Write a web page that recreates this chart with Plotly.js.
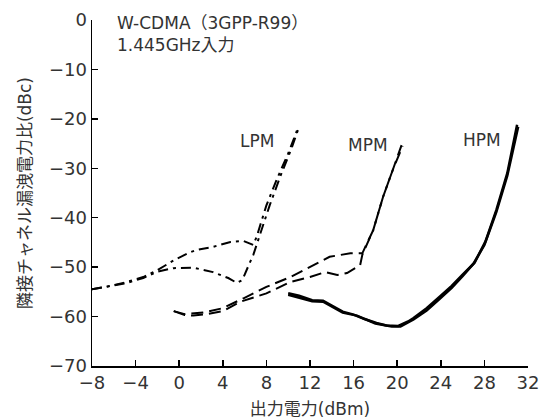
<!DOCTYPE html>
<html>
<head>
<meta charset="utf-8">
<script src="https://cdn.plot.ly/plotly-3.0.1.min.js"></script>
<style>html,body{margin:0;padding:0;background:#fff;}#chart{width:544px;height:420px;}</style>
</head>
<body>
<div id="chart"></div>
<script>
// LPM (dash-dot) two curves
const lpmAx = [-8, -6.3, -4.8, -3.3, -2, -0.4, 1, 1.6, 3.1, 4.7, 5.9, 6.8, 7.1, 8, 9, 10, 10.8];
const lpmAy = [-54.5, -53.8, -53, -52, -50.6, -48.5, -47, -46.5, -45.9, -44.9, -44.7, -45.5, -43.9, -37.5, -32, -27, -22.4];
const lpmBx = [-8, -6.3, -4.8, -3.3, -2, -0.5, 0.1, 1.3, 3.1, 4.5, 5.3, 5.8, 6.3, 6.8, 7.4, 8.3, 9.3, 10.3, 11];
const lpmBy = [-54.5, -53.8, -53.2, -52.2, -50.9, -50.2, -50.2, -50.1, -51, -52.2, -53.2, -52.6, -50, -47.5, -43.5, -37.5, -31.5, -26, -21.6];
// MPM (dashed) two curves
const mpmAx = [-0.5, 0.5, 2.2, 4, 5.9, 8, 10.2, 12, 13.8, 15.7, 16.6, 16.8, 17.8, 18.7, 19.6, 20.4];
const mpmAy = [-58.9, -59.5, -59.2, -58.3, -56.3, -54, -52, -50, -47.9, -47.2, -47.2, -47.2, -42.5, -35.8, -30.3, -25.3];
const mpmBx = [-0.5, 0.5, 1.3, 2.5, 4, 5.6, 8, 10.2, 12, 13.4, 14.5, 15.4, 16.6, 16.8, 17.8, 18.7, 19.6, 20.5];
const mpmBy = [-58.9, -59.7, -59.8, -59.5, -58.9, -57, -55.3, -53, -52, -51, -51.6, -51.2, -49.6, -47.5, -42.5, -35.8, -30.3, -25.5];
// HPM (solid) two curves
const hpmAx = [10, 11, 12.2, 13.2, 14, 15, 16, 17, 18.1, 19, 20.1, 21, 21.5, 22.7, 24, 25, 26, 27.1, 28.1, 29.1, 30.1, 31];
const hpmAy = [-55.3, -55.8, -56.7, -56.8, -57.8, -59, -59.6, -60.5, -61.3, -61.8, -61.9, -61, -60.3, -58.3, -55.8, -53.8, -51.5, -49.1, -44.8, -38.4, -31, -21.2];
const hpmBx = [10, 12.2, 13.2, 15, 16.3, 18, 19.5, 20.3, 21.5, 22.7, 23.8, 25, 26, 27, 28, 29.1, 30.1, 31.1];
const hpmBy = [-55.6, -56.9, -57, -59.2, -59.8, -61.4, -62, -62, -60.6, -58.8, -56.6, -54.2, -51.8, -49.3, -45.5, -38.8, -31.5, -21.6];

const xTicks = [-8, -4, 0, 4, 8, 12, 16, 20, 24, 28, 32];
const yTicks = [-70, -60, -50, -40, -30, -20, -10, 0];
const modeLabels = ['LPM', 'MPM', 'HPM'];
const labelX = [7.1, 17.3, 27.8];
const labelY = [-24.4, -25.2, -24.2];

const FONT = 'DejaVu Sans, Noto Sans CJK JP, sans-serif';
const TXT = '#333';

const dashDot = '10px,5px,3px,5px';
const dashed = '12px,6px';

const traces = [
  {x: lpmAx, y: lpmAy, mode: 'lines', line: {color: '#000', width: 2, dash: dashDot}, name: 'LPM a'},
  {x: lpmBx, y: lpmBy, mode: 'lines', line: {color: '#000', width: 2, dash: dashDot}, name: 'LPM b'},
  {x: mpmAx, y: mpmAy, mode: 'lines', line: {color: '#000', width: 2, dash: dashed}, name: 'MPM a'},
  {x: mpmBx, y: mpmBy, mode: 'lines', line: {color: '#000', width: 2, dash: dashed}, name: 'MPM b'},
  {x: hpmAx, y: hpmAy, mode: 'lines', line: {color: '#000', width: 2.5}, name: 'HPM a'},
  {x: hpmBx, y: hpmBy, mode: 'lines', line: {color: '#000', width: 2.5}, name: 'HPM b'}
];

const annotations = modeLabels.map((t, i) => ({
  x: labelX[i], y: labelY[i], xref: 'x', yref: 'y', text: t, showarrow: false,
  font: {family: FONT, size: 17, color: TXT}, xanchor: 'center', yanchor: 'middle'
}));
annotations.push({
  x: -5.9, y: 1.025, xref: 'x', yref: 'paper', xanchor: 'left', yanchor: 'top', align: 'left',
  text: 'W-CDMA（3GPP-R99）<br>1.445GHz入力', showarrow: false,
  font: {family: FONT, size: 17, color: TXT}
});

const layout = {
  width: 544, height: 420,
  margin: {l: 92, r: 16, t: 20, b: 54},
  paper_bgcolor: '#fff', plot_bgcolor: '#fff',
  showlegend: false,
  font: {family: FONT, color: TXT, size: 17},
  xaxis: {
    range: [-8, 32], tickvals: xTicks, ticktext: xTicks.map(v => v < 0 ? '\u2212' + Math.abs(v) : String(v)),
    showgrid: false, zeroline: false, showline: true, linecolor: '#000', linewidth: 1.5,
    ticks: 'inside', ticklen: 6, tickwidth: 1.5, tickcolor: '#000',
    tickfont: {family: FONT, size: 18, color: TXT},
    title: {text: '出力電力(dBm)', font: {family: FONT, size: 17, color: TXT}, standoff: 11},
    automargin: false
  },
  yaxis: {
    range: [-70, 0], tickvals: yTicks, ticktext: yTicks.map(v => v < 0 ? '\u2212' + Math.abs(v) : String(v)),
    showgrid: false, zeroline: false, showline: true, linecolor: '#000', linewidth: 1.5,
    ticks: 'inside', ticklen: 6, tickwidth: 1.5, tickcolor: '#000',
    tickfont: {family: FONT, size: 18, color: TXT},
    title: {text: '隣接チャネル漏洩電力比(dBc)', font: {family: FONT, size: 17, color: TXT}, standoff: 13},
    automargin: false
  },
  annotations: annotations
};

Plotly.newPlot('chart', traces, layout, {displayModeBar: false, staticPlot: true});
</script>
</body>
</html>
